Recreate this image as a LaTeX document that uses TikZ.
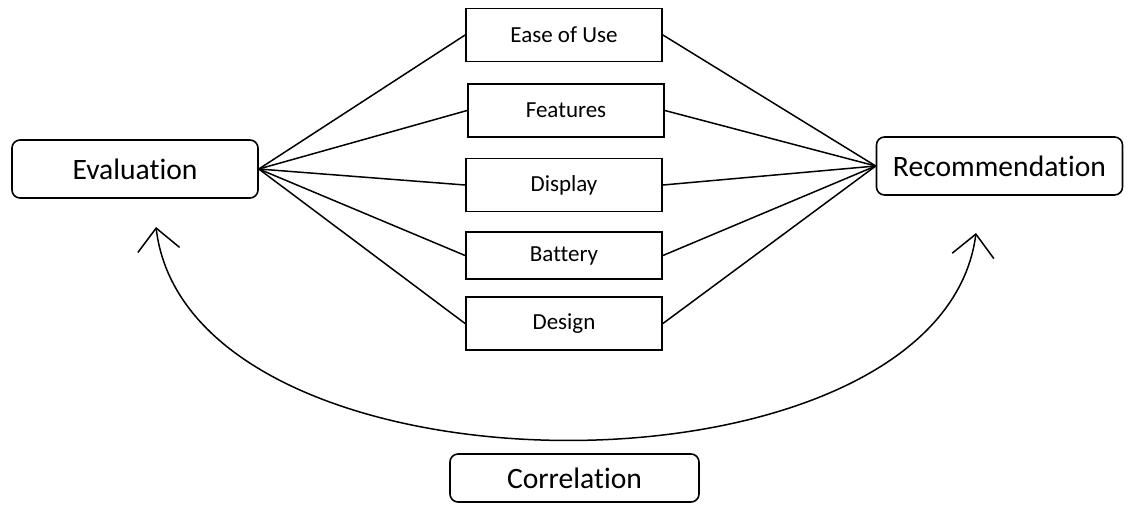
\documentclass[tikz,border=0pt]{standalone}
\usepackage{fontspec}
\setmainfont{Carlito}[RawFeature=-liga]
\usepackage{tikz}
\usetikzlibrary{arrows.meta}
\usetikzlibrary{positioning}
\usetikzlibrary{math}
\tikzstyle{side} = [draw=black, rounded corners=4pt, line width=0.8pt, minimum width=123pt, minimum height=29pt, inner sep=0pt, font=\fontsize{14.8}{16}\selectfont]
\tikzstyle{factor} = [draw=black, line width=0.9pt, minimum width=98pt, minimum height=26.5pt, inner sep=0pt, font=\fontsize{11.5}{13}\selectfont]
\tikzstyle{link} = [line width=0.75pt]
\tikzstyle{backarc} = [{Straight Barb[length=11pt,width=21pt]}-{Straight Barb[length=11pt,width=21pt]}, line width=0.75pt]

\begin{document}
\begin{tikzpicture}[x=0.5pt, y=-0.5pt]

  \tikzmath{\xmax = 1128; \ymax = 504; \fx = 564;}
  \useasboundingbox (0,0) rectangle (\xmax,\ymax);

  % outer boxes
  \node[side] (eval) at (135,169) {Evaluation};
  \node[side] (recom) at (999.5,166) {Recommendation};
  \node[side, minimum width=124.5pt, minimum height=24pt] (corr) at (574.5,478) {Correlation};

  % factors
  \node[factor] (ease) at (\fx,35) {Ease of Use};
  \node[factor] (feat) at (\fx+2,110.5) {Features};
  \node[factor] (disp) at (\fx,185) {Display};
  \node[factor, minimum height=23.5pt] (batt) at (\fx,255.5) {Battery};
  \node[factor] (desg) at (\fx,323.5) {Design};

  \foreach \f in {ease, feat, disp, batt, desg} {
    \draw[link] (eval.east) -- (\f.west);
    \draw[link] (\f.east) -- (recom.west);
  }

  % arc under the factors
  \coordinate (evaltip) at (156,227);
  \coordinate (recomtip) at (976,233);
  \draw[backarc] (evaltip) .. controls +(34,283) and +(-36,277) .. (recomtip);

\end{tikzpicture}
\end{document}
